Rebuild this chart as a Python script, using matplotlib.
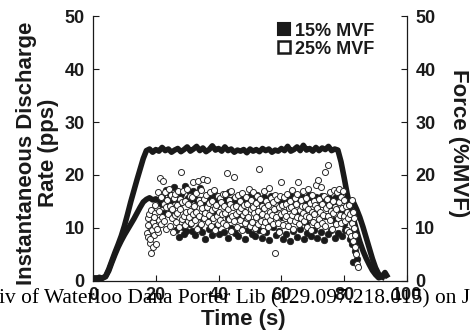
import matplotlib
matplotlib.use("Agg")
import matplotlib.pyplot as plt
from matplotlib.lines import Line2D

plt.rcParams['font.family'] = ['Liberation Sans', 'DejaVu Sans']
plt.rcParams['font.weight'] = 'bold'

ink = '#1a1a1a'

# force traces, sampled once a second
force_time = [0, 1, 2, 3, 4, 5, 6, 7, 8, 9,
              10, 11, 12, 13, 14, 15, 16, 17, 18, 19,
              20, 21, 22, 23, 24, 25, 26, 27, 28, 29,
              30, 31, 32, 33, 34, 35, 36, 37, 38, 39,
              40, 41, 42, 43, 44, 45, 46, 47, 48, 49,
              50, 51, 52, 53, 54, 55, 56, 57, 58, 59,
              60, 61, 62, 63, 64, 65, 66, 67, 68, 69,
              70, 71, 72, 73, 74, 75, 76, 77, 78, 79,
              80, 81, 82, 83, 84, 85, 86, 87, 88, 89,
              90, 91, 92, 93, 94]

force25 = [0.6, 0.4, 0.7, 0.5, 0.9, 2.2, 3.8, 5.4, 6.9, 8.5,
           10.4, 12.6, 14.9, 17.0, 19.1, 21.1, 23.1, 24.6, 24.9, 24.3,
           24.8, 24.5, 25.2, 24.6, 24.9, 24.3, 24.7, 25.0, 24.4, 24.8,
           25.3, 24.5, 24.9, 25.4, 24.6, 25.1, 24.4, 24.8, 25.5, 24.7,
           25.0, 24.5, 25.3, 24.6, 24.9, 24.3, 24.7, 24.5, 24.8, 24.2,
           24.9, 24.5, 24.8, 24.4, 25.0, 24.6, 24.9, 24.3, 24.7, 24.5,
           25.0, 24.6, 25.4, 24.5, 24.8, 25.3, 24.6, 25.6, 24.7, 25.0,
           24.5, 25.2, 24.6, 25.1, 24.8, 25.4, 24.6, 24.9, 24.7, 22.5,
           19.5, 16.3, 13.8, 11.6, 9.4, 7.4, 5.7, 4.3, 3.1, 2.0,
           1.2, 0.6, 0.8, 0.5]

force15 = [0.5, 0.6, 0.4, 0.6, 0.8, 1.9, 3.5, 5.0, 6.4, 7.6,
           8.7, 9.7, 10.7, 11.7, 12.8, 13.9, 14.9, 15.4, 15.7, 15.3,
           15.5, 15.2, 15.6, 15.1, 15.4, 15.0, 15.5, 15.2, 15.6, 15.1,
           15.3, 15.0, 15.5, 15.2, 15.4, 15.1, 15.6, 15.0, 15.3, 15.5,
           15.1, 15.4, 15.0, 15.5, 15.2, 15.6, 15.1, 15.3, 15.0, 15.4,
           15.2, 15.6, 15.1, 15.3, 15.5, 15.0, 15.4, 15.2, 15.6, 15.1,
           15.3, 15.0, 15.5, 15.2, 15.4, 15.1, 15.6, 15.2, 15.4, 15.0,
           15.5, 15.3, 15.1, 15.6, 15.2, 15.4, 15.0, 15.5, 15.2, 15.4,
           15.1, 15.3, 15.0, 14.8, 13.5, 12.0, 10.2, 8.2, 6.2, 4.2,
           2.5, 1.3, 0.8, 1.6, 0.6]

# 25% MVF unit: discharge times (s) and rates (pps)
open_time = [
    17.2, 17.4, 17.6, 17.9, 18.1, 18.3, 18.5, 18.8, 19.0, 19.2, 19.4, 19.7,
    19.9, 20.1, 20.4, 20.6, 20.9, 17.5, 18.0, 18.6, 19.3, 19.8, 20.3, 20.8,
    21.1, 21.3, 21.6, 21.8, 22.0, 22.3, 22.5, 22.7, 23.0, 23.2, 23.4, 23.7,
    23.9, 24.1, 24.4, 24.6, 24.8, 25.1, 25.3, 25.5, 25.8, 26.0,
    26.2, 26.4, 26.7, 26.9, 27.1, 27.4, 27.6, 27.8, 28.1, 28.3, 28.5, 28.7,
    29.0, 29.2, 29.4, 29.7, 29.9, 30.1, 30.4, 30.6, 30.8, 31.0,
    31.3, 31.5, 31.7, 32.0, 32.2, 32.4, 32.7, 32.9, 33.1, 33.4, 33.6, 33.8,
    34.1, 34.3, 34.5, 34.8, 35.0, 35.2, 35.5, 35.7, 35.9, 36.2,
    36.4, 36.6, 36.9, 37.1, 37.3, 37.6, 37.8, 38.0, 38.3, 38.5, 38.7, 39.0,
    39.2, 39.4, 39.7, 39.9, 40.1, 40.4, 40.6, 40.8, 41.1, 41.3,
    41.5, 41.8, 42.0, 42.2, 42.5, 42.7, 42.9, 43.2, 43.4, 43.6, 43.9, 44.1,
    44.3, 44.6, 44.8, 45.0, 45.3, 45.5, 45.7, 46.0, 46.2, 46.4,
    46.7, 46.9, 47.1, 47.4, 47.6, 47.8, 48.1, 48.3, 48.5, 48.8, 49.0, 49.2,
    49.5, 49.7, 49.9, 50.2, 50.4, 50.6, 50.9, 51.1, 51.3, 51.6,
    51.8, 52.0, 52.3, 52.5, 52.7, 53.0, 53.2, 53.5, 53.7, 53.9, 54.2, 54.4,
    54.6, 54.9, 55.1, 55.3, 55.6, 55.8, 56.0, 56.3, 56.5, 56.7,
    57.0, 57.2, 57.4, 57.7, 57.9, 58.1, 58.4, 58.6, 58.8, 59.1, 59.3, 59.5,
    59.8, 60.0, 60.2, 60.5, 60.7, 60.9, 61.2, 61.4, 61.6, 61.9,
    62.1, 62.3, 62.6, 62.8, 63.0, 63.3, 63.5, 63.7, 64.0, 64.2, 64.4, 64.7,
    64.9, 65.1, 65.4, 65.6, 65.8, 66.1, 66.3, 66.5, 66.8, 67.0,
    67.2, 67.5, 67.7, 67.9, 68.2, 68.4, 68.6, 68.9, 69.1, 69.3, 69.6, 69.8,
    70.0, 70.3, 70.5, 70.7, 71.0, 71.2, 71.4, 71.7, 71.9, 72.1,
    72.4, 72.6, 72.8, 73.1, 73.3, 73.5, 73.8, 74.0, 74.2, 74.5, 74.7, 74.9,
    75.2, 75.4, 75.6, 75.9, 76.1, 76.3, 76.6, 76.8, 77.0, 77.3,
    77.5, 77.7, 78.0, 78.2, 78.4, 78.7, 78.9, 79.1, 79.4, 79.6, 79.8, 80.1,
    80.3, 80.5, 80.8, 81.0,
    81.2, 81.5, 81.7, 82.0, 82.2, 82.4, 82.7, 82.9, 83.1, 83.4, 83.6, 83.8,
    84.1, 84.3, 82.5, 83.0]
open_rate = [
    9.0, 11.8, 8.3, 12.6, 10.1, 7.2, 13.4, 9.6, 6.5, 11.2, 8.7, 12.9,
    10.4, 7.0, 13.8, 9.2, 11.5, 10.6, 8.0, 5.3, 12.1, 14.3, 9.9, 16.8,
    13.2, 19.4, 10.8, 15.9, 12.1, 18.8, 14.6, 11.3, 16.7, 13.9, 9.8, 15.2,
    12.7, 17.3, 10.4, 14.1, 16.2, 11.9, 13.5, 9.2, 15.6, 12.4,
    16.4, 11.1, 14.3, 12.8, 17.0, 10.2, 13.6, 15.4, 20.6, 11.7, 14.9, 16.9,
    12.3, 10.6, 15.1, 13.0, 17.4, 11.4, 14.6, 12.0, 16.1, 13.3,
    10.9, 15.8, 12.6, 18.7, 14.2, 11.5, 16.6, 13.1, 9.9, 18.9, 15.3, 12.2,
    14.8, 10.7, 17.1, 13.7, 19.2, 11.8, 15.5, 12.9, 16.3, 14.0,
    19.0, 11.2, 14.7, 12.5, 16.8, 10.3, 13.4, 15.0, 11.9, 17.2, 13.8, 9.6,
    14.4, 12.2, 16.0, 10.8, 13.1, 15.7, 11.6, 14.9, 12.7, 16.5,
    11.0, 14.1, 12.9, 16.4, 10.5, 20.4, 13.6, 15.3, 11.7, 14.5, 9.4, 17.0,
    12.3, 13.9, 19.7, 11.3, 15.8, 12.6, 14.2, 10.1, 16.2, 13.2,
    15.1, 11.5, 13.7, 9.7, 16.6, 12.4, 14.4, 10.9, 13.0, 15.9, 11.8, 14.6,
    12.1, 17.3, 10.4, 13.5, 15.2, 11.1, 14.0, 16.7, 12.8, 10.0,
    14.8, 12.0, 16.1, 10.7, 13.3, 21.1, 15.5, 11.4, 14.1, 12.6, 9.5, 16.9,
    13.8, 11.2, 15.0, 12.3, 14.4, 10.2, 17.6, 13.0, 11.6, 15.6,
    12.4, 14.9, 10.8, 13.6, 16.3, 5.3, 12.0, 15.4, 11.0, 13.9, 9.3, 16.0,
    12.7, 18.7, 14.3, 10.6, 13.1, 15.8, 11.9, 14.6, 12.2, 16.4,
    10.3, 13.7, 15.1, 11.6, 14.0, 12.5, 17.1, 9.8, 13.2, 15.6, 11.3, 14.5,
    12.1, 16.5, 18.7, 10.7, 13.4, 15.3, 11.8, 14.2, 12.9, 16.9,
    11.4, 14.1, 12.3, 15.7, 10.1, 13.5, 17.4, 12.0, 14.8, 9.7, 16.2, 13.0,
    11.1, 15.0, 12.6, 14.4, 18.2, 10.5, 13.8, 19.0, 11.7, 15.4,
    13.1, 17.8, 11.0, 14.6, 12.4, 16.1, 20.6, 10.4, 13.7, 15.5, 21.9, 12.2,
    14.3, 11.5, 16.8, 13.3, 9.9, 15.1, 12.8, 17.2, 14.0, 10.8,
    13.6, 16.7, 11.9, 17.4, 14.9, 12.5, 15.8, 10.9, 13.8, 17.0, 12.2, 15.3,
    11.4, 14.2, 9.6, 13.0,
    11.8, 14.4, 9.3, 12.6, 8.5, 10.9, 13.1, 7.6, 10.0, 6.4, 8.7, 5.0,
    3.3, 2.6, 15.2, 11.9]

# 15% MVF unit
filled_time = [
    21.5, 22.0, 22.6, 23.1, 23.7, 24.2, 24.8, 25.3, 25.9, 26.4, 27.0, 27.5,
    28.1, 28.6, 29.2, 29.7, 30.3, 30.8, 27.7, 28.9, 30.0, 31.0,
    31.4, 31.9, 32.5, 33.0, 33.6, 34.1, 34.7, 35.2, 35.8, 36.3, 36.9, 37.4,
    38.0, 38.5, 39.1, 39.6, 40.2, 40.7, 32.2, 34.4, 36.6, 39.3,
    41.2, 41.8, 42.3, 42.9, 43.4, 44.0, 44.5, 45.1, 45.6, 46.2, 46.7, 47.3,
    47.8, 48.4, 48.9, 49.5, 50.0, 50.6, 43.1, 45.9, 48.1, 50.3,
    51.1, 51.7, 52.2, 52.8, 53.3, 53.9, 54.4, 55.0, 55.5, 56.1, 56.6, 57.2,
    57.7, 58.3, 58.8, 59.4, 59.9, 60.5, 52.5, 55.8, 58.0, 60.1,
    61.0, 61.6, 62.1, 62.7, 63.2, 63.8, 64.3, 64.9, 65.4, 66.0, 66.5, 67.1,
    67.6, 68.2, 68.7, 69.3, 69.8, 70.4, 62.4, 65.7, 68.0, 70.9,
    71.5, 72.0, 72.6, 73.1, 73.7, 74.2, 74.8, 75.3, 75.9, 76.4, 77.0, 77.5,
    78.1, 78.6, 79.2, 79.7, 80.3, 80.8, 73.9, 76.9, 79.0, 80.0,
    81.3, 81.8, 82.2, 82.6, 83.0, 83.3, 83.7, 84.0, 81.6, 82.9]
filled_rate = [
    14.6, 15.9, 12.8, 17.2, 14.1, 16.6, 13.4, 15.5, 17.8, 9.7, 15.1, 8.3,
    16.4, 10.2, 17.9, 9.4, 15.6, 10.8, 14.7, 8.9, 12.2, 16.8,
    9.5, 16.9, 8.7, 15.3, 10.1, 17.5, 9.2, 14.8, 8.0, 16.2, 9.9, 15.7,
    8.6, 16.6, 10.4, 14.5, 8.9, 15.9, 13.0, 12.1, 11.5, 12.8,
    16.1, 9.3, 15.0, 8.2, 16.8, 10.0, 14.7, 9.1, 15.9, 8.5, 16.3, 9.8,
    14.9, 7.9, 15.6, 9.6, 16.0, 8.8, 11.9, 12.4, 13.1, 11.2,
    15.4, 8.4, 16.2, 9.7, 15.0, 8.1, 15.8, 9.2, 14.6, 7.8, 16.0, 10.1,
    15.3, 8.6, 15.7, 9.4, 14.9, 8.0, 12.6, 11.4, 13.5, 12.0,
    15.6, 8.9, 15.2, 7.6, 16.1, 9.5, 14.8, 8.3, 15.5, 9.9, 15.9, 7.9,
    14.7, 9.1, 16.3, 8.5, 15.1, 9.6, 11.7, 12.9, 10.9, 15.8,
    8.2, 15.4, 9.3, 16.0, 7.7, 15.1, 8.8, 15.7, 9.6, 14.9, 8.1, 15.8,
    9.0, 16.2, 8.4, 15.3, 9.7, 14.6, 12.3, 11.6, 13.0, 10.8,
    12.9, 8.0, 11.5, 6.9, 9.8, 5.6, 7.4, 4.2, 14.1, 3.6]

fig = plt.figure(figsize=(4.71, 3.30), dpi=100)
ax = fig.add_axes([0.1975, 0.1485, 0.6665, 0.803])
ax2 = ax.twinx()

ax2.plot(force_time[:len(force25)], force25, color=ink, lw=4, solid_capstyle='butt')
ax2.plot(force_time[:len(force15)], force15, color=ink, lw=4, solid_capstyle='butt')

ax.set_zorder(ax2.get_zorder() + 1)
ax.patch.set_visible(False)

ax.scatter(filled_time, filled_rate, s=22, c=ink, edgecolors=ink, linewidths=0.5)
ax.scatter(open_time, open_rate, s=19, c='white', edgecolors='#2a2a2a', linewidths=0.7)

for a in (ax, ax2):
    a.set_xlim(0, 100)
    a.set_ylim(0, 50)
    a.spines['top'].set_visible(False)
    a.set_yticks([0, 10, 20, 30, 40, 50])
ax.spines['right'].set_visible(False)
ax.set_xticks([0, 20, 40, 60, 80, 100])
ax.tick_params(axis='both', direction='in', length=4, width=0.8,
               labelsize=13, colors=ink, pad=4)
ax.tick_params(axis='y', pad=6)
ax2.tick_params(axis='y', direction='in', length=4, width=0.8,
                labelsize=13, colors=ink, pad=6)
for s in ('left', 'bottom'):
    ax.spines[s].set_linewidth(0.9)
    ax.spines[s].set_color(ink)
ax2.spines['right'].set_linewidth(0.9)
ax2.spines['right'].set_color(ink)
ax2.spines['left'].set_visible(False)
ax2.spines['bottom'].set_visible(False)

handles = [Line2D([], [], ls='none', marker='s', ms=9, mfc=ink, mec=ink, mew=1.5),
           Line2D([], [], ls='none', marker='s', ms=9, mfc='white', mec=ink, mew=1.8)]
ax.legend(handles, ['15% MVF', '25% MVF'], loc='upper left',
          bbox_to_anchor=(0.585, 0.975), frameon=False, fontsize=13,
          handlelength=0.8, handletextpad=0.2, labelspacing=0.05,
          borderpad=0, borderaxespad=0, labelcolor=ink)

fig.text(37.5 / 471, 1 - 153 / 330, 'Instantaneous Discharge\nRate (pps)',
         rotation=90, ha='center', va='center', multialignment='center',
         fontsize=16, color=ink, linespacing=1.05)
fig.text(458 / 471, 1 - 143 / 330, 'Force (%MVF)', rotation=-90,
         ha='center', va='center', fontsize=16, color=ink)
fig.text(243 / 471, 1 - 319 / 330, 'Time (s)', ha='center', va='center',
         fontsize=16, color=ink)

fig.text(-0.002, 1 - 303 / 330,
         'iv of Waterloo Dana Porter Lib (129.097.218.015) on J',
         family=['Liberation Serif', 'DejaVu Serif'], fontweight='normal',
         fontsize=15.4, color='black', ha='left', va='baseline', zorder=10)

fig.savefig('out.png', dpi=100)
